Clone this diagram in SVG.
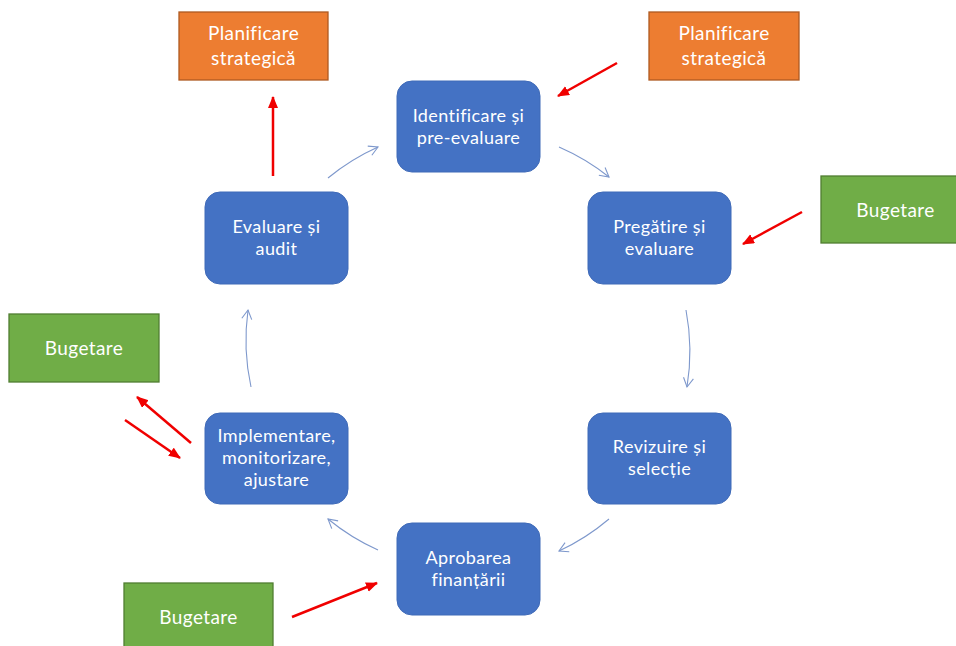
<svg xmlns="http://www.w3.org/2000/svg" width="956" height="646" viewBox="0 0 956 646">
  <style>
    .step { fill: #4472C4; stroke: #3F6AB8; stroke-width: 1; }
    .plan { fill: #ED7D31; stroke: #AE5A21; stroke-width: 1.3; }
    .budget { fill: #70AD47; stroke: #507E32; stroke-width: 1.3; }
    text { font-family: Lato, "Open Sans", "Liberation Sans", sans-serif; fill: #FFFFFF; text-anchor: middle; font-variant-ligatures: none; letter-spacing: 0.4px; }
    .t-step { font-size: 18px; }
    .t-side { font-size: 19px; }
    .cycle { fill: none; stroke: #7E98CC; stroke-width: 1.1; marker-end: url(#open); }
    .link { fill: none; stroke: #F00000; stroke-width: 2.5; marker-end: url(#solid); }
  </style>
  <defs>
    <marker id="open" markerUnits="userSpaceOnUse" markerWidth="14" markerHeight="14" refX="10" refY="6" orient="auto">
      <path d="M1,1 L10,6 L1,11" fill="none" stroke="#7E98CC" stroke-width="1.1"/>
    </marker>
    <marker id="solid" markerUnits="userSpaceOnUse" markerWidth="14" markerHeight="12" refX="11" refY="5" orient="auto">
      <path d="M0,0 L12,5 L0,10 Z" fill="#F00000"/>
    </marker>
  </defs>

  <rect width="956" height="646" fill="#FFFFFF"/>

  <!-- cycle of project stages -->
  <g id="identificare">
    <rect class="step" x="397" y="81" width="143" height="91" rx="15"/>
    <text class="t-step" x="468.5" y="121.5">Identificare și</text>
    <text class="t-step" x="468.5" y="143.5">pre-evaluare</text>
  </g>
  <g id="pregatire">
    <rect class="step" x="588" y="192" width="143" height="92" rx="15"/>
    <text class="t-step" x="659.5" y="232.5">Pregătire și</text>
    <text class="t-step" x="659.5" y="254.5">evaluare</text>
  </g>
  <g id="revizuire">
    <rect class="step" x="588" y="413" width="143" height="91" rx="15"/>
    <text class="t-step" x="659.5" y="452.5">Revizuire și</text>
    <text class="t-step" x="659.5" y="474.5">selecție</text>
  </g>
  <g id="aprobarea">
    <rect class="step" x="397" y="523" width="143" height="92" rx="15"/>
    <text class="t-step" x="468.5" y="563.5">Aprobarea</text>
    <text class="t-step" x="468.5" y="585.5">finanțării</text>
  </g>
  <g id="implementare">
    <rect class="step" x="205" y="413" width="143" height="91" rx="15"/>
    <text class="t-step" x="276.5" y="442">Implementare,</text>
    <text class="t-step" x="276.5" y="464">monitorizare,</text>
    <text class="t-step" x="276.5" y="486">ajustare</text>
  </g>
  <g id="evaluare">
    <rect class="step" x="205" y="192" width="143" height="92" rx="15"/>
    <text class="t-step" x="276.5" y="232.5">Evaluare și</text>
    <text class="t-step" x="276.5" y="254.5">audit</text>
  </g>

  <!-- linked processes -->
  <g id="planificare-stanga">
    <rect class="plan" x="179" y="12" width="149" height="68"/>
    <text class="t-side" x="253.5" y="40">Planificare</text>
    <text class="t-side" x="253.5" y="65">strategică</text>
  </g>
  <g id="planificare-dreapta">
    <rect class="plan" x="649" y="12" width="150" height="68"/>
    <text class="t-side" x="724" y="40">Planificare</text>
    <text class="t-side" x="724" y="65">strategică</text>
  </g>
  <g id="bugetare-dreapta">
    <rect class="budget" x="821" y="176" width="149" height="67"/>
    <text class="t-side" x="895.5" y="217">Bugetare</text>
  </g>
  <g id="bugetare-stanga">
    <rect class="budget" x="9" y="314" width="150" height="68"/>
    <text class="t-side" x="84" y="355">Bugetare</text>
  </g>
  <g id="bugetare-jos">
    <rect class="budget" x="124" y="583" width="149" height="68"/>
    <text class="t-side" x="198.5" y="624">Bugetare</text>
  </g>

  <g id="connectors">
    <!-- cycle arcs around the centre (468,348) -->
    <path class="cycle" d="M328,178 A221,221 0 0 1 378,147"/>
    <path class="cycle" d="M559,147 A221,221 0 0 1 609,177"/>
    <path class="cycle" d="M686,310 A221,221 0 0 1 687,387"/>
    <path class="cycle" d="M609,519 A221,221 0 0 1 559,551"/>
    <path class="cycle" d="M378,550 A221,221 0 0 1 328,519"/>
    <path class="cycle" d="M251,387 A221,221 0 0 1 248,310"/>

    <!-- links to planning and budgeting -->
    <path class="link" d="M273,176 L273,97"/>
    <path class="link" d="M617,63 L558,96"/>
    <path class="link" d="M802,212 L743,244"/>
    <path class="link" d="M191,443 L137,397"/>
    <path class="link" d="M125,420 L180,458"/>
    <path class="link" d="M292,617 L377,583"/>
  </g>
</svg>
